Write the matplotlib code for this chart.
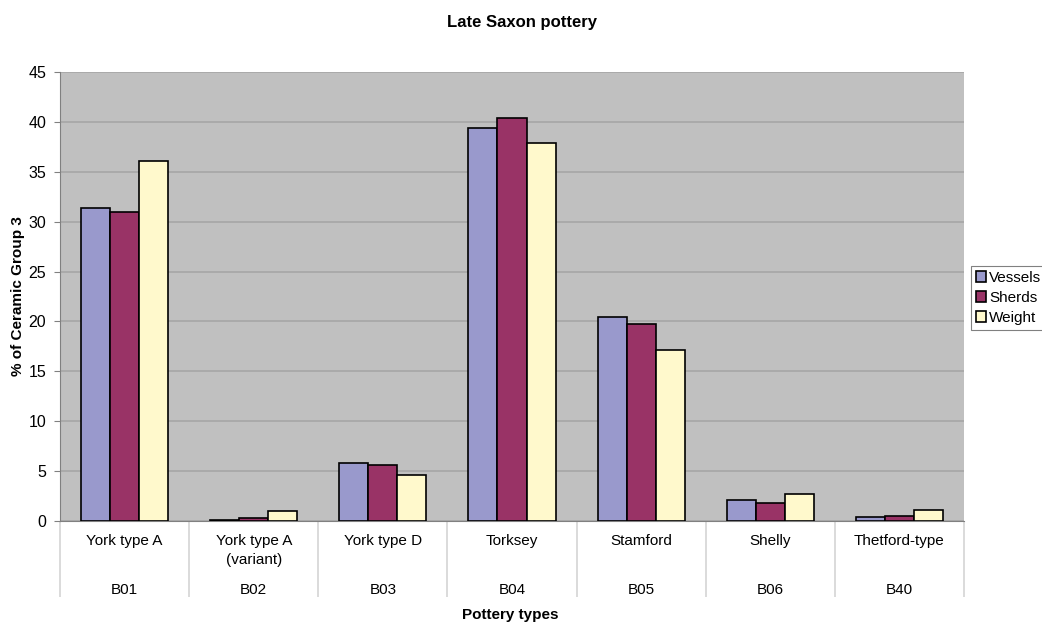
import matplotlib
matplotlib.use("Agg")
import matplotlib.pyplot as plt
import matplotlib.transforms as mtransforms
import numpy as np

plt.rcParams['font.family'] = ['Liberation Sans', 'DejaVu Sans']

# pottery types and their codes
types = ["York type A", "York type A\n(variant)", "York type D", "Torksey",
         "Stamford", "Shelly", "Thetford-type"]
codes = ["B01", "B02", "B03", "B04", "B05", "B06", "B40"]

# % of Ceramic Group 3
vessels = [31.4, 0.1, 5.8, 39.4, 20.4, 2.1, 0.4]
sherds = [31.0, 0.35, 5.6, 40.4, 19.7, 1.8, 0.5]
weight = [36.1, 1.0, 4.6, 37.9, 17.1, 2.7, 1.1]

series = [("Vessels", vessels, "#9999cc"),
          ("Sherds", sherds, "#993366"),
          ("Weight", weight, "#fff9cc")]

fig = plt.figure(figsize=(10.42, 6.22), dpi=100)
ax = fig.add_axes([60 / 1042, 1 - 521 / 622, 904 / 1042, 449 / 622])
ax.set_facecolor("#c0c0c0")

x = np.arange(len(types))
w = 0.225
for i, (name, vals, col) in enumerate(series):
    ax.bar(x + (i - 1) * w, vals, width=w, color=col, edgecolor="black",
           linewidth=1.2, label=name, zorder=3)

ax.set_xlim(-0.5, len(types) - 0.5)
ax.set_ylim(0, 45)
ax.set_yticks(range(0, 46, 5))
ax.yaxis.grid(True, color="#a6a6a6", linewidth=1.2, zorder=0)
ax.tick_params(axis="y", labelsize=11.5, length=4, color="#808080", pad=6)

# category separators below the axis
ax.set_xticks([])
ax.set_xticks(np.arange(-0.5, len(types)), minor=True)
ax.tick_params(axis="x", which="minor", length=55, color="#d4d4d4", width=1.2,
               labelbottom=False)

for s in ["top", "right"]:
    ax.spines[s].set_visible(False)
ax.spines["left"].set_color("#808080")
ax.spines["bottom"].set_color("#808080")

trans = mtransforms.blended_transform_factory(ax.transData, ax.transAxes)
for xi, t, c in zip(x, types, codes):
    ax.text(xi, -0.028, t, transform=trans, ha="center", va="top", fontsize=11,
            linespacing=1.5)
    ax.text(xi, -0.154, c, transform=trans, ha="center", va="center", fontsize=11)

ax.set_ylabel("% of Ceramic Group 3", fontsize=11, fontweight="bold", labelpad=2)
fig.text(510 / 1042, 1 - 615 / 622, "Pottery types", ha="center", va="center",
         fontsize=11, fontweight="bold")
fig.suptitle("Late Saxon pottery", x=522 / 1042, y=1 - 22 / 622, va="center",
             fontsize=12, fontweight="bold")

leg = ax.legend(loc="center left", bbox_to_anchor=(971 / 1042, 1 - 298 / 622),
                bbox_transform=fig.transFigure, fontsize=11, frameon=True,
                fancybox=False, edgecolor="#606060", handlelength=0.7,
                handleheight=0.7, handletextpad=0.2, labelspacing=0.4,
                borderpad=0.3, borderaxespad=0)
leg.get_frame().set_linewidth(0.8)

fig.savefig("out.png", dpi=100)
